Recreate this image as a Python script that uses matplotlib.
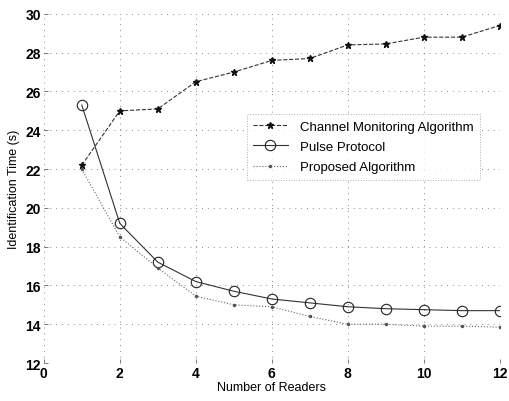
import numpy as np
import matplotlib
matplotlib.use("Agg")
import matplotlib.pyplot as plt

plt.rcParams['font.family'] = ['Liberation Sans', 'DejaVu Sans']

readers = [1, 2, 3, 4, 5, 6, 7, 8, 9, 10, 11, 12]
channel_monitoring = [22.2, 25.0, 25.1, 26.5, 27.0, 27.6, 27.7, 28.4, 28.45, 28.8, 28.8, 29.4]
pulse_protocol = [25.3, 19.2, 17.2, 16.2, 15.7, 15.3, 15.1, 14.9, 14.8, 14.75, 14.7, 14.7]
proposed = [22.0, 18.5, 16.9, 15.45, 15.0, 14.9, 14.4, 14.0, 14.0, 13.9, 13.9, 13.85]

xticks = [0, 2, 4, 6, 8, 10, 12]
yticks = [12, 14, 16, 18, 20, 22, 24, 26, 28, 30]

fig = plt.figure(figsize=(5.09, 4.02), dpi=100)
ax = fig.add_axes([0.086, 0.0945, 0.896, 0.8685])

ax.plot(readers, channel_monitoring, ls='--', color='#333333', lw=0.8,
        marker='*', ms=5, mfc='#111111', mec='#111111', label='Channel Monitoring Algorithm')
ax.plot(readers, pulse_protocol, ls='-', color='#333333', lw=0.8,
        marker='o', ms=7.5, mfc='none', mec='#222222', mew=0.8, label='Pulse Protocol')
ax.plot(readers, proposed, ls=':', color='#666666', lw=0.8,
        marker='.', ms=3, mfc='#555555', mec='#555555', label='Proposed Algorithm')

ax.set_xlim(0, 12)
ax.set_ylim(12, 30)
ax.set_xticks(xticks)
ax.set_yticks(yticks)
ax.tick_params(direction='in', length=3, width=0.6, color='#666666', labelsize=10, pad=2)
for lbl in ax.get_xticklabels() + ax.get_yticklabels():
    lbl.set_fontweight('bold')

for s in ax.spines.values():
    s.set_visible(False)
ax.grid(True, ls=(0, (1, 5)), color='#888888', lw=0.7)

ax.set_xlabel('Number of Readers', fontsize=9, labelpad=1)
ax.set_ylabel('Identification Time (s)', fontsize=9, labelpad=4)

leg = ax.legend(loc='upper left', bbox_to_anchor=(0.445, 0.713), fontsize=9.5,
                frameon=True, fancybox=False, borderaxespad=0, handlelength=2.6,
                handletextpad=0.9, borderpad=0.5, labelspacing=0.6)
leg.get_frame().set_edgecolor('#999999')
leg.get_frame().set_linestyle(':')
leg.get_frame().set_linewidth(0.7)

fig.savefig('out.png', dpi=100)
